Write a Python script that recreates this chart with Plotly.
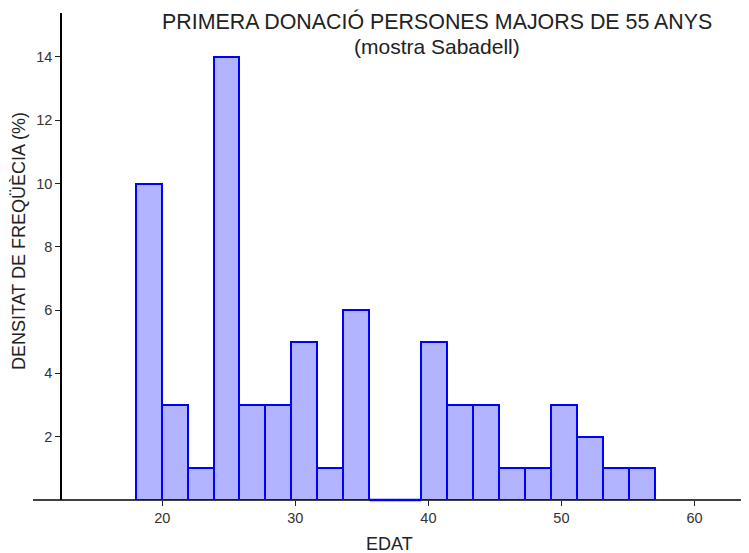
import numpy as np
import plotly.graph_objects as go

# Data
age_min = 18
age_max = 57
density = [10, 3, 1, 14, 3, 3, 5, 1, 6, 0, 0, 5, 3, 3, 1, 1, 3, 2, 1, 1]
x_ticks = [20, 30, 40, 50, 60]
y_ticks = [2, 4, 6, 8, 10, 12, 14]
title_line1 = "PRIMERA DONACIÓ PERSONES MAJORS DE 55 ANYS"
title_line2 = "(mostra Sabadell)"
x_title = "EDAT"
y_title = "DENSITAT DE FREQÜÈCIA (%)"

n_bins = len(density)
edges = np.linspace(age_min, age_max, n_bins + 1)
centers = (edges[:-1] + edges[1:]) / 2
widths = np.diff(edges)

OFF = 8  # page body margin
W, H = 749 - OFF, 553 - OFF
ml, mr, mt, mb = 62 - OFF, 0, 13 - OFF, 53
font = "Liberation Sans, Arial, sans-serif"
bar_edge = "#0000FF"

fig = go.Figure()
fig.add_trace(go.Bar(
    x=centers, y=density, width=widths, base=0,
    marker=dict(color="rgb(178,180,255)", line=dict(color=bar_edge, width=2)),
    cliponaxis=False, hoverinfo="skip",
))

fig.update_layout(
    width=W, height=H,
    margin=dict(l=ml, r=mr, t=mt, b=mb, autoexpand=False),
    plot_bgcolor="white", paper_bgcolor="white",
    showlegend=False, bargap=0,
    font=dict(family=font, color="#333333", size=14.5),
    xaxis=dict(range=[12.46, 64.1], showgrid=False, zeroline=False, showline=False,
               tickvals=x_ticks, ticks="outside", ticklen=5, tickcolor="#222222",
               tickfont=dict(size=14.5, color="#333333"), automargin=False),
    yaxis=dict(range=[0, 15.39], showgrid=False, zeroline=False, showline=True,
               linecolor="black", linewidth=1.5,
               tickvals=y_ticks, ticks="outside", ticklen=5, tickcolor="#222222",
               tickfont=dict(size=14.5, color="#333333"), automargin=False),
)

pw = W - ml - mr
ph = H - mt - mb

def px_x(p):
    return (p - OFF - ml) / pw

def px_y(p):
    return 1 - (p - OFF - mt) / ph

# x axis line extending left of the y axis
fig.add_shape(type="line", xref="paper", yref="paper",
              x0=px_x(33), x1=1, y0=0, y1=0,
              line=dict(color="black", width=1.5), layer="below")

# empty bins drawn as a blue baseline
for i, v in enumerate(density):
    if v == 0:
        fig.add_shape(type="line", xref="x", yref="paper",
                      x0=edges[i], x1=edges[i + 1], y0=0, y1=0,
                      line=dict(color=bar_edge, width=2.5), layer="above")

common = dict(xref="paper", yref="paper", showarrow=False,
              xanchor="center", yanchor="middle")
fig.add_annotation(text=title_line1, x=px_x(436.5), y=px_y(22),
                   font=dict(size=21.4, color="#222222", family=font), **common)
fig.add_annotation(text=title_line2, x=px_x(436.5), y=px_y(46.5),
                   font=dict(size=21, color="#222222", family=font), **common)
fig.add_annotation(text=x_title, x=px_x(389.5), y=px_y(544),
                   font=dict(size=18, color="#222222", family=font), **common)
fig.add_annotation(text=y_title, x=px_x(19), y=px_y(241), textangle=-90,
                   font=dict(size=18, color="#222222", family=font), **common)

fig.write_html("out.html")
